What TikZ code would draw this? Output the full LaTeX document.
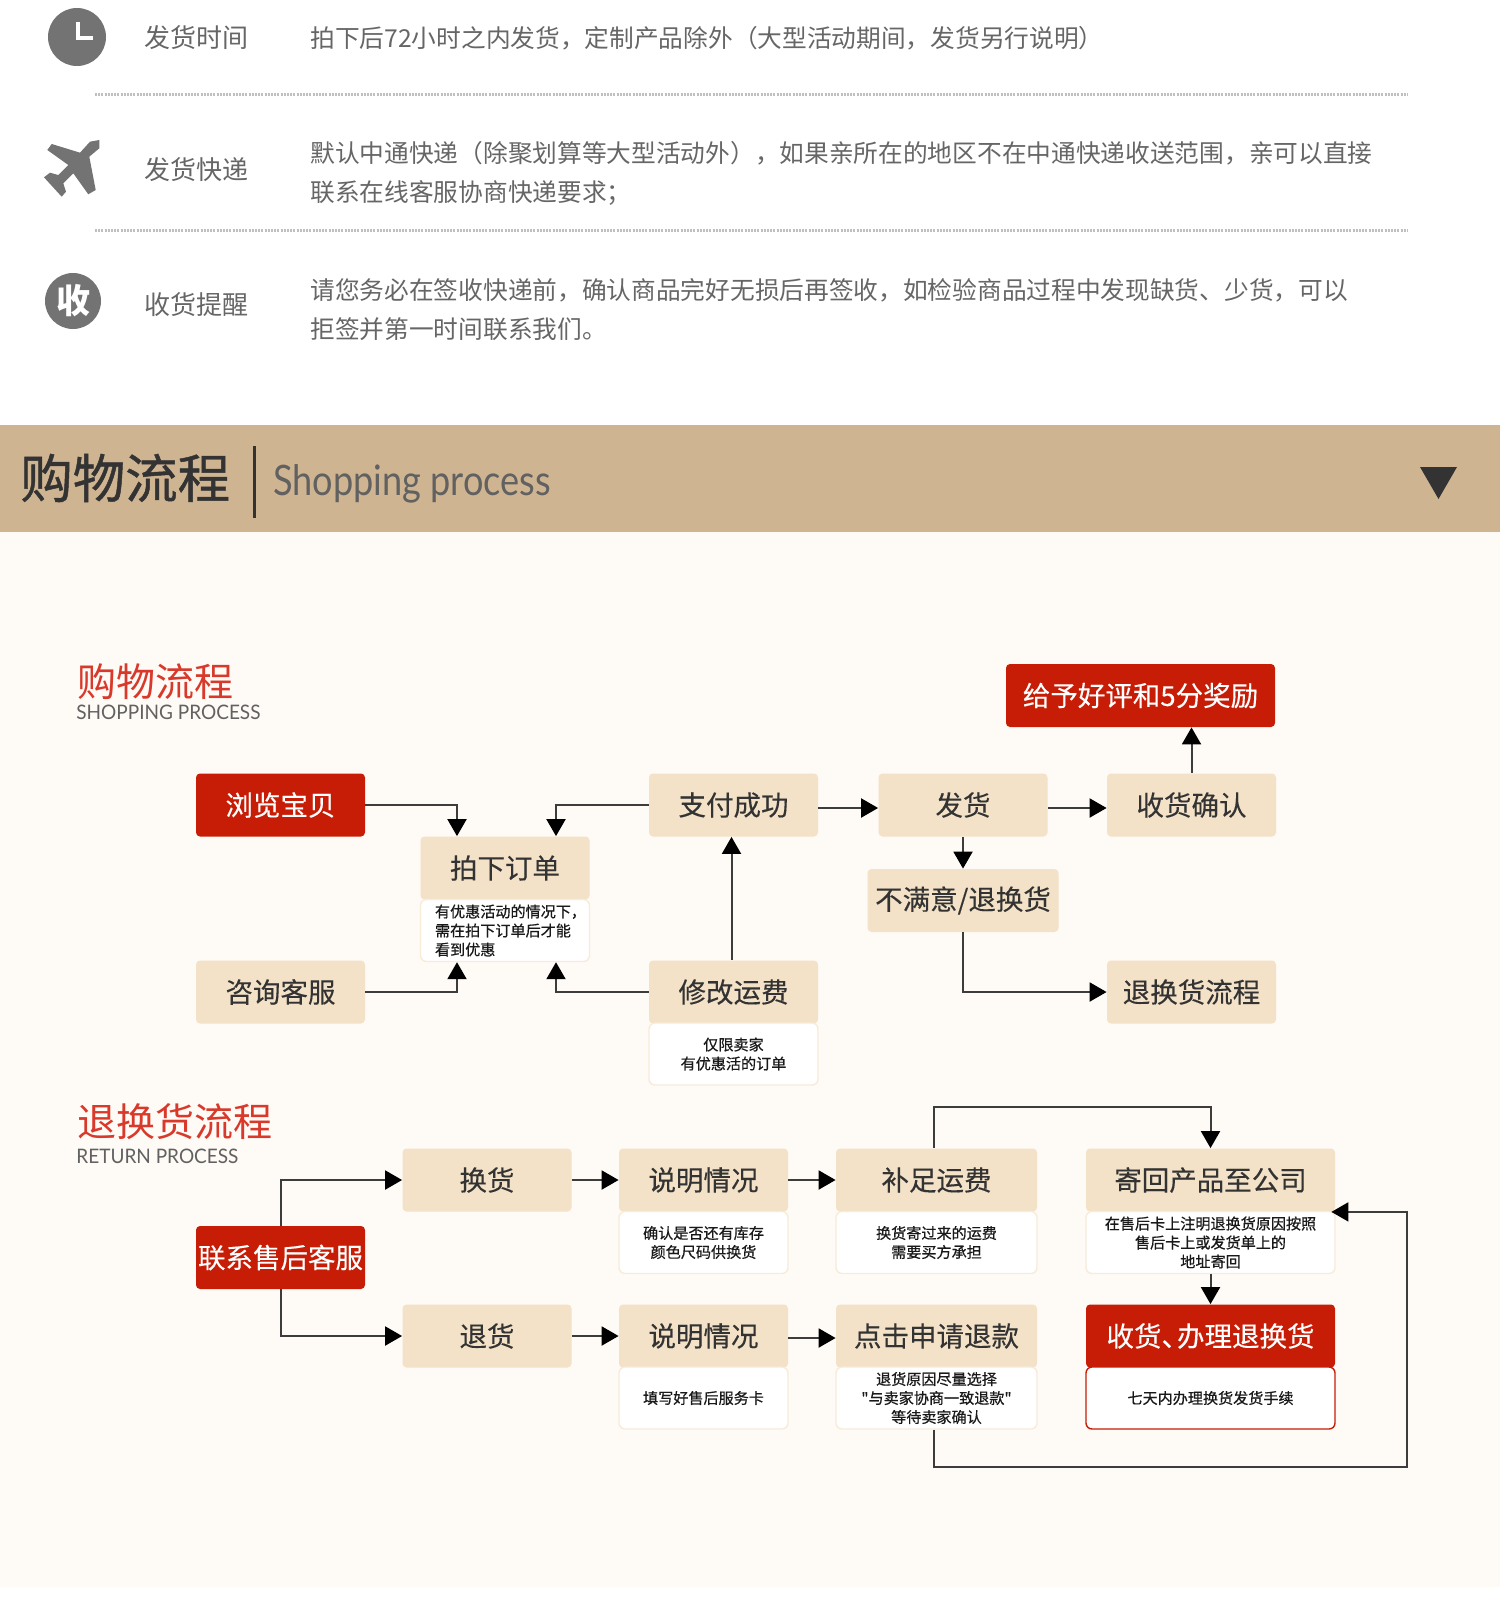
\documentclass[tikz,border=0pt]{standalone}
\usepackage{xcolor}
\usepackage{fontspec}
\usetikzlibrary{arrows.meta, calc}
\setmainfont{Noto Sans CJK SC}
\newfontfamily\cellfont[FakeBold=0.25]{Noto Sans CJK SC}
\newfontfamily\notefont[FakeBold=0.6]{Noto Sans CJK SC}
\newfontfamily\barfont[FakeBold=0.9]{Noto Sans CJK SC}
\newfontfamily\subsfont[FakeStretch=0.95]{Lato}
\newfontfamily\barsubfont[FakeStretch=0.86]{Lato}
\definecolor{shopred}{HTML}{C71D06}
\definecolor{shoptan}{HTML}{F3E2C7}
\definecolor{shopcream}{HTML}{FEFAF5}
\definecolor{shopbar}{HTML}{CFB491}
\definecolor{shopedge}{HTML}{F8EBDA}
\definecolor{shopline}{HTML}{3C3C3C}
\definecolor{shoptitle}{HTML}{D8392B}
\begin{document}
\begin{tikzpicture}[
    x=0.5pt, y=-0.5pt,
    cb/.style={fill=shoptan, rounded corners=2pt, inner sep=0pt,
               minimum width=#1*0.5pt, minimum height=31.5pt,
               text=black!80, font=\fontsize{13.75}{16}\cellfont},
    cb/.default=169,
    hot/.style={cb=#1, fill=shopred, text=white},
    hot/.default=169,
    note/.style={draw=shopedge, fill=white, rounded corners=3pt, inner sep=0pt, line width=0.7pt,
                 minimum width=#1*0.5pt, minimum height=31pt, align=center,
                 text=black!90, font=\fontsize{7.55}{9.5}\notefont},
    note/.default=169,
    head/.style={anchor=west, inner sep=0pt, text=black!60, font=\fontsize{13}{15}\selectfont},
    body/.style={anchor=west, inner sep=0pt, text=black!60, font=\fontsize{12.35}{14}\selectfont},
    sect/.style={anchor=west, inner sep=0pt, text=shoptitle, font=\fontsize{19.5}{22}\selectfont},
    subs/.style={anchor=west, inner sep=0pt, text=black!62, font=\fontsize{10}{12}\subsfont},
    badge/.style={circle, fill=black!55, inner sep=0pt, minimum size=#1*1pt},
    rule/.style={draw=black!25, line width=1.5pt, dash pattern=on 1pt off 0.6pt},
    flow/.style={-{Triangle[length=8.5pt, width=9.5pt, black]}, draw=shopline, line width=1pt},
]
    \useasboundingbox (0,0) rectangle (1500,1611);
    % Backgrounds
    \fill[white] (0,0) rectangle (1500,1611);
    \fill[shopbar] (0,425) rectangle (1500,532);
    \fill[shopcream] (0,532) rectangle (1500,1587);

    % Delivery notes
    \node[badge=29] (clock) at (77,37) {};
    \draw[white, line width=2pt] (78,22) -- (78,38) -- (93,38);
    \fill[black!55] (99.3,140) -- (90,141.7) -- (80,152.7) -- (51.7,144) -- (47.3,150) -- (68.3,165)
        -- (58.3,175) -- (50,172.7) -- (44,177.3) -- (61.7,196.7) -- (66,191.7) -- (63.3,183.3)
        -- (73.3,173.3) -- (88.3,194.3) -- (95.7,190) -- (89.3,156.7) -- (99.3,148.3) -- cycle;
    \node[badge=28, text=white, font=\fontsize{17}{17}\selectfont\bfseries] (recv) at (73,301) {收};

    \node[head] (timehead) at (144,38) {发货时间};
    \node[body] (timetext) at (310,38) {拍下后72小时之内发货，定制产品除外（大型活动期间，发货另行说明）};
    \node[head] (exphead) at (144,170) {发货快递};
    \node[body] (exptext) at (310,153) {默认中通快递（除聚划算等大型活动外），如果亲所在的地区不在中通快递收送范围，亲可以直接};
    \node[body] (exptextb) at (310,193) {联系在线客服协商快递要求；};
    \node[head] (recvhead) at (144,305) {收货提醒};
    \node[body] (recvtext) at (310,290) {请您务必在签收快递前，确认商品完好无损后再签收，如检验商品过程中发现缺货、少货，可以};
    \node[body] (recvtextb) at (310,329) {拒签并第一时间联系我们。};
    \draw[rule] (95,95) -- (1408,95);
    \draw[rule] (95,230) -- (1408,230);

    % Banner
    \node[anchor=west, inner sep=0pt, text=black!80, font=\fontsize{26.2}{30}\barfont] (bartitle) at (20,478) {购物流程};
    \draw[black!80, line width=1.5pt] (254,446) -- (254,518);
    \node[anchor=west, inner sep=0pt, text=black!62, font=\fontsize{21}{24}\barsubfont] (barsub) at (273,484) {Shopping process};
    \fill[black!80] (1420,467) -- (1457,467) -- (1438.5,499) -- cycle;

    % Shopping process
    \node[sect] (shophead) at (77,682) {购物流程};
    \node[subs] (shopsub) at (76,712) {SHOPPING PROCESS};
    \node[hot] (browse) at (280.5,805) {浏览宝贝};
    \node[cb] (consult) at (280.5,992) {咨询客服};
    \node[cb] (order) at (505,868) {拍下订单};
    \node[note, align=left] (ordernote) at (505,930.5) {\hspace*{5.5pt}有优惠活动的情况下，\\\hspace*{5.5pt}需在拍下订单后才能\\\hspace*{5.5pt}看到优惠};
    \node[cb] (paid) at (733.5,805) {支付成功};
    \node[cb] (postage) at (733.5,992) {修改运费};
    \node[note] (postagenote) at (733.5,1054) {仅限卖家\\有优惠活的订单};
    \node[cb] (ship) at (963,805) {发货};
    \node[cb=191] (unhappy) at (963,900.5) {不满意/退换货};
    \node[cb] (confirm) at (1191.5,805) {收货确认};
    \node[cb] (returnflow) at (1191.5,992) {退换货流程};
    \node[hot=269] (reward) at (1140.5,695.5) {给予好评和5分奖励};

    \draw[flow] (browse.east) -| ([xshift=-24pt]order.north);
    \draw[flow] (paid.west) -| ([xshift=25.5pt]order.north);
    \draw[flow] (consult.east) -| ([xshift=-24pt]ordernote.south);
    \draw[flow] (postage.west) -| ([xshift=25.5pt]ordernote.south);
    \draw[flow] ([xshift=-1pt]postage.north) -- ([xshift=-1pt]paid.south);
    \draw[flow] ([yshift=-1.5pt]paid.east) -- ([yshift=-1.5pt]ship.west);
    \draw[flow] ([yshift=-1.5pt]ship.east) -- ([yshift=-1.5pt]confirm.west);
    \draw[flow] (confirm.north) -- (confirm.north |- reward.south);
    \draw[flow] (ship.south) -- (unhappy.north);
    \draw[flow] (unhappy.south) |- (returnflow.west);

    % Return process
    \node[sect] (rethead) at (77,1122) {退换货流程};
    \node[subs] (retsub) at (76,1156) {RETURN PROCESS};
    \node[hot] (contact) at (280.5,1257.5) {联系售后客服};
    \node[cb] (swap) at (487,1180) {换货};
    \node[cb] (refund) at (487,1336) {退货};
    \node[cb] (state) at (703.5,1180) {说明情况};
    \node[note] (statenote) at (703.5,1242.5) {确认是否还有库存\\颜色尺码供换货};
    \node[cb] (statb) at (703.5,1336) {说明情况};
    \node[note] (statbnote) at (703.5,1398) {填写好售后服务卡};
    \node[cb=201] (topup) at (936.5,1180) {补足运费};
    \node[note=201] (topupnote) at (936.5,1242.5) {换货寄过来的运费\\需要买方承担};
    \node[cb=201] (apply) at (936.5,1336) {点击申请退款};
    \node[note=201] (applynote) at (936.5,1398) {退货原因尽量选择\\"与卖家协商一致退款"\\等待卖家确认};
    \node[cb=249] (sendback) at (1210.5,1180) {寄回产品至公司};
    \node[note=249] (sendnote) at (1210.5,1242.5) {在售后卡上注明退换货原因按照\\售后卡上或发货单上的\\地址寄回};
    \node[hot=249] (handle) at (1210.5,1336) {收货、\hspace{-6pt}办理退换货};
    \node[note=249, draw=shopred] (handlenote) at (1210.5,1398) {七天内办理换货发货手续};
    \coordinate (toprun) at (1071,1107);
    \coordinate (lowrun) at (1407,1467);

    \draw[flow] (contact.north) |- (swap.west);
    \draw[flow] (contact.south) |- (refund.west);
    \draw[flow] (swap.east) -- (state.west);
    \draw[flow] (refund.east) -- (statb.west);
    \draw[flow] (state.east) -- (topup.west);
    \draw[flow] ([yshift=-1pt]statb.east) -- ([yshift=-1pt]apply.west);
    \draw[flow] ([xshift=-1.5pt]topup.north) |- (toprun) -| (sendback.north);
    \draw[flow] (sendnote.south) -- (handle.north);
    \draw[flow] ([xshift=-1.5pt]applynote.south) |- (lowrun) |- ([xshift=-2pt]sendback.south east);
\end{tikzpicture}
\end{document}
